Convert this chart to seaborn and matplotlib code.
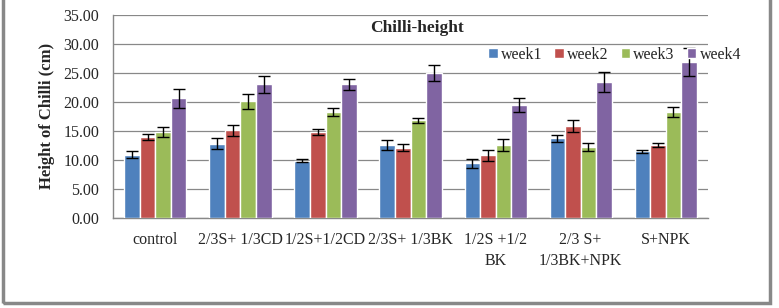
import matplotlib
matplotlib.use("Agg")
import matplotlib.pyplot as plt
import seaborn as sns
import pandas as pd
import numpy as np
from matplotlib.patches import Rectangle

categories = ["control", "2/3S+ 1/3CD", "1/2S+1/2CD", "2/3S+ 1/3BK",
              "1/2S +1/2\nBK", "2/3 S+\n1/3BK+NPK", "S+NPK"]
weeks = ["week1", "week2", "week3", "week4"]
week1 = [10.9, 12.8, 9.9, 12.6, 9.4, 13.7, 11.5]
week2 = [14.0, 15.1, 14.8, 12.1, 10.8, 15.8, 12.6]
week3 = [14.8, 20.1, 18.2, 16.8, 12.6, 12.2, 18.3]
week4 = [20.6, 23.0, 23.0, 25.0, 19.4, 23.4, 26.9]
err1 = [0.6, 0.9, 0.3, 0.9, 0.7, 0.6, 0.3]
err2 = [0.5, 1.0, 0.5, 0.6, 1.0, 1.0, 0.3]
err3 = [0.9, 1.3, 0.7, 0.5, 1.0, 0.7, 0.9]
err4 = [1.6, 1.5, 0.9, 1.4, 1.2, 1.7, 2.4]
colors = ["#4F81BD", "#C0504D", "#9BBB59", "#8064A2"]

vals = [week1, week2, week3, week4]
errs = [err1, err2, err3, err4]
rows = []
for w, v, e in zip(weeks, vals, errs):
    for c, vv, ee in zip(categories, v, e):
        rows.append({"cat": c, "week": w, "value": vv, "err": ee})
df = pd.DataFrame(rows)

sns.set_style("white")
plt.rcParams["font.family"] = ["Liberation Serif", "DejaVu Serif"]

fig = plt.figure(figsize=(7.79, 3.08), dpi=100)
ax = fig.add_axes([0.145, 0.292, 0.764, 0.660])

sns.barplot(data=df, x="cat", y="value", hue="week", palette=colors,
            order=categories, hue_order=weeks, errorbar=None, width=0.73,
            saturation=1, ax=ax, zorder=3)

for container, e in zip(ax.containers, errs):
    xs = [p.get_x() + p.get_width() / 2 for p in container.patches]
    hs = [p.get_height() for p in container.patches]
    ax.errorbar(xs, hs, yerr=e, fmt="none", ecolor="black", elinewidth=1,
                capsize=4, capthick=1, zorder=4)

ax.set_ylim(0, 35)
ax.set_yticks(np.arange(0, 35.01, 5))
ax.set_yticklabels([f"{t:.2f}" for t in np.arange(0, 35.01, 5)], fontsize=11.5)
ax.set_xlim(-0.5, len(categories) - 0.5)
ax.set_xticks(range(len(categories)))
ax.set_xticklabels(categories, fontsize=11.5, linespacing=1.4)
ax.tick_params(axis="x", length=0, pad=10)
ax.set_xticks(np.arange(-0.5, len(categories), 1), minor=True)
ax.tick_params(axis="x", which="minor", length=5, color="#888888", direction="out")
ax.tick_params(axis="y", length=4, color="#888888", direction="out", pad=6)
ax.grid(axis="y", color="#888888", linewidth=0.9, zorder=0)
ax.set_axisbelow(True)
for s in ["top", "right"]:
    ax.spines[s].set_visible(False)
for s in ["left", "bottom"]:
    ax.spines[s].set_color("#888888")
    ax.spines[s].set_linewidth(1)
ax.set_xlabel("")
ax.set_ylabel("Height of Chilli (cm)", fontsize=12, fontweight="bold", labelpad=6)
ax.text(0.511, 0.935, "Chilli-height", transform=ax.transAxes, ha="center",
        va="center", fontsize=12.5, fontweight="bold")

leg = ax.legend(loc="upper right", bbox_to_anchor=(1.066, 0.875), ncol=4,
                frameon=False, fontsize=11.5, handlelength=0.6, handleheight=0.6,
                handletextpad=0.2, columnspacing=0.75, borderaxespad=0)

fig.add_artist(Rectangle((0.004, 0.017), 0.985, 0.99, transform=fig.transFigure,
                         fill=False, edgecolor="#888888", linewidth=2.5))

fig.savefig("out.png", dpi=100)
